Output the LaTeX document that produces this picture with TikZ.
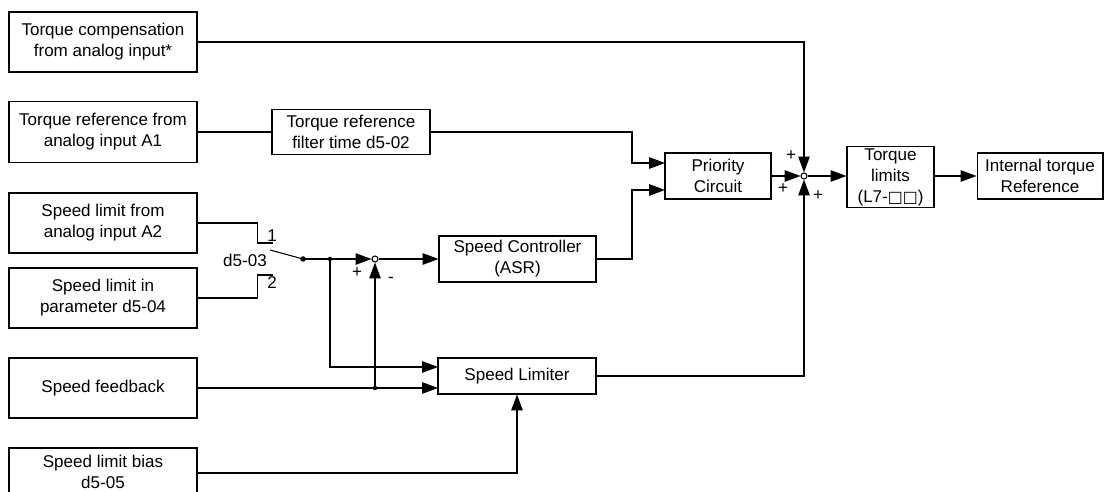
\documentclass[tikz,border=0pt]{standalone}
\usepackage{fontspec}
\setmainfont{Liberation Sans}
\newfontfamily\symfont{DejaVu Sans}
\usetikzlibrary{arrows.meta,positioning,calc}

\begin{document}
\begin{tikzpicture}[
  x=0.02cm, y=-0.02cm, line width=0.6pt,
  every node/.style={font=\fontsize{9.7}{12}\selectfont},
  blk/.style={draw, align=center, inner sep=0pt, minimum width=#1},
  blk/.default=3.76cm,
  sumpt/.style={draw, circle, fill=white, inner sep=0pt, minimum size=0.12cm},
  dot/.style={circle, fill, inner sep=0pt, minimum size=#1},
  dot/.default=0.09cm,
  sig/.style={-{Triangle[length=9pt, width=6.5pt]}},
  lbl/.style={inner sep=0pt}
]
  \useasboundingbox (0,0) rectangle (1104,492);

  % inputs
  \node[blk, minimum height=1.2cm]  (tcomp) at (103,42)  {Torque compensation\\from analog input*};
  \node[blk, minimum height=1.22cm] (tref)  at (103,132) {Torque reference from\\analog input A1};
  \node[blk, minimum height=1.2cm]  (slimA) at (103,223) {Speed limit from\\analog input A2};
  \node[blk, minimum height=1.2cm]  (slimP) at (103,298) {Speed limit in\\parameter d5-04};
  \node[blk, minimum height=1.2cm]  (sfb)   at (103,388) {Speed feedback};
  \node[blk, minimum height=0.96cm] (sbias) at (103,472) {Speed limit bias\\d5-05};

  % blocks
  \node[blk=3.16cm, minimum height=0.9cm]  (filt) at (351,132)   {Torque reference\\filter time d5-02};
  \node[blk=2.12cm, minimum height=0.92cm] (prio) at (718,176)   {Priority\\Circuit};
  \node[blk=3.14cm, minimum height=0.92cm] (asr)  at (517.5,259) {Speed Controller\\(ASR)};
  \node[blk=3.16cm, minimum height=0.72cm] (slim) at (517,376)   {Speed Limiter};
  \node[blk=1.74cm, minimum height=1.22cm] (tlim) at (890.5,177) {Torque\\limits\\(L7-{\symfont\fontsize{9}{12}\selectfont □□})};
  \node[blk=2.52cm, minimum height=0.92cm] (itr)  at (1040,176)  {Internal torque\\Reference};

  % sums, switch, junctions
  \node[sumpt] (sum1) at (804,176) {};
  \node[sumpt] (sum2) at (375,259) {};
  \coordinate (c1) at (273,243);
  \coordinate (c2) at (273,275);
  \coordinate (blade) at (270,250);
  \node[dot=0.11cm] (piv) at (303,259) {};
  \node[dot] (jn1) at (330,259) {};
  \node[dot] (jn2) at (375,388) {};
  \coordinate (bus) at (632,0);
  \coordinate (pin1) at (665,163);
  \coordinate (pin2) at (665,190);
  \coordinate (lin1) at (438,367);
  \coordinate (lin2) at (438,388);

  % labels
  \node[lbl] at (272,236) {1};
  \node[lbl] at (272,283) {2};
  \node[lbl] at (245,260) {d5-03};
  \node[lbl] at (357,273) {+};
  \node[lbl] at (391,280) {-};
  \node[lbl] at (791,156) {+};
  \node[lbl] at (783,189) {+};
  \node[lbl] at (818,196) {+};

  % wiring
  \draw[sig] (tcomp.east) -| (sum1);
  \draw (tref.east) -- (filt.west);
  \draw[sig] (filt.east) -| (bus |- pin1) -- (pin1);
  \draw[sig] (asr.east) -| (bus |- pin2) -- (pin2);
  \draw[sig] (prio.east) -- (sum1);
  \draw[sig] (sum1) -- (tlim.west |- sum1);
  \draw[sig] (tlim.east |- itr) -- (itr.west);
  \draw (slimA.east) -- ++(60,0) |- (c1);
  \draw (slimP.east) -- ++(60,0) |- (c2);
  \draw (blade) -- (piv.center);
  \draw[sig] (piv.center) -- (sum2);
  \draw[sig] (sum2) -- (asr.west);
  \draw[sig] (jn1.center) |- (lin1);
  \draw[sig] (sfb.east) -- (lin2);
  \draw[sig] (jn2.center) -- (sum2);
  \draw[sig] (sbias.east |- 0,473) -| (slim.south);
  \draw[sig] (slim.east) -| (sum1);
\end{tikzpicture}
\end{document}
